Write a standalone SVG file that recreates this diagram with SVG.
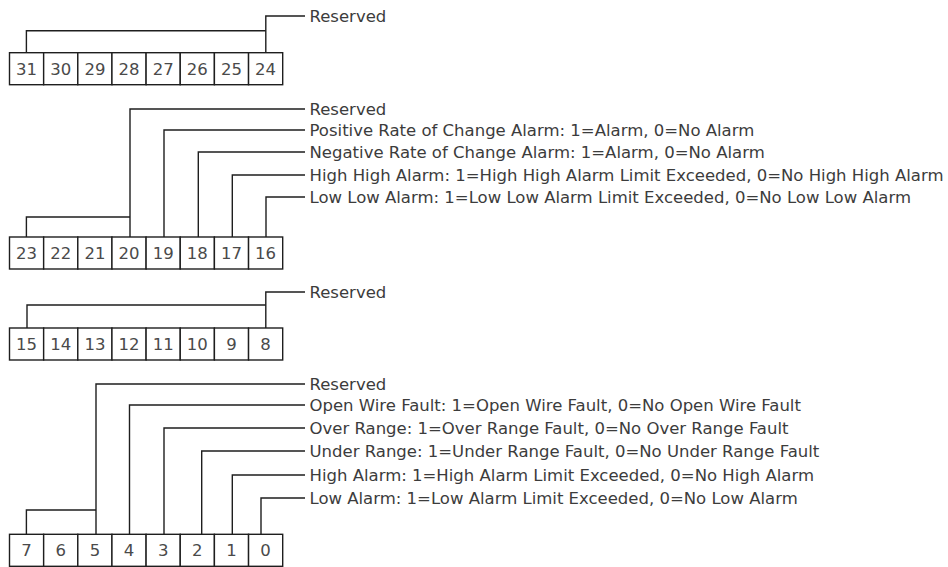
<svg xmlns="http://www.w3.org/2000/svg" width="948" height="567" viewBox="0 0 948 567">
<style>
.cell{fill:#fff;stroke:#1e1e1e;stroke-width:1.4}
.num{font-family:"DejaVu Sans","Liberation Sans",sans-serif;font-size:16.5px;fill:#4a4a4a;text-anchor:middle}
.lbl{font-family:"DejaVu Sans","Liberation Sans",sans-serif;font-size:16.5px;fill:#3c3c3c}
.ln{fill:none;stroke:#1e1e1e;stroke-width:1.4}
</style>
<rect width="948" height="567" fill="#fff"/>
<!-- Row 1: bits 31-24 -->
<g id="bit31"><rect class="cell" x="9.5" y="52.7" width="34.15" height="32"/><text class="num" x="26.6" y="74.7">31</text></g>
<g id="bit30"><rect class="cell" x="43.65" y="52.7" width="34.15" height="32"/><text class="num" x="60.7" y="74.7">30</text></g>
<g id="bit29"><rect class="cell" x="77.8" y="52.7" width="34.15" height="32"/><text class="num" x="94.9" y="74.7">29</text></g>
<g id="bit28"><rect class="cell" x="111.95" y="52.7" width="34.15" height="32"/><text class="num" x="129" y="74.7">28</text></g>
<g id="bit27"><rect class="cell" x="146.1" y="52.7" width="34.15" height="32"/><text class="num" x="163.2" y="74.7">27</text></g>
<g id="bit26"><rect class="cell" x="180.25" y="52.7" width="34.15" height="32"/><text class="num" x="197.3" y="74.7">26</text></g>
<g id="bit25"><rect class="cell" x="214.4" y="52.7" width="34.15" height="32"/><text class="num" x="231.5" y="74.7">25</text></g>
<g id="bit24"><rect class="cell" x="248.55" y="52.7" width="34.15" height="32"/><text class="num" x="265.6" y="74.7">24</text></g>
<g id="lbl-r1-reserved"><text class="lbl" x="309.5" y="22">Reserved</text></g>
<!-- Row 2: bits 23-16 -->
<g id="bit23"><rect class="cell" x="9.5" y="237" width="34.15" height="32"/><text class="num" x="26.6" y="259">23</text></g>
<g id="bit22"><rect class="cell" x="43.65" y="237" width="34.15" height="32"/><text class="num" x="60.7" y="259">22</text></g>
<g id="bit21"><rect class="cell" x="77.8" y="237" width="34.15" height="32"/><text class="num" x="94.9" y="259">21</text></g>
<g id="bit20"><rect class="cell" x="111.95" y="237" width="34.15" height="32"/><text class="num" x="129" y="259">20</text></g>
<g id="bit19"><rect class="cell" x="146.1" y="237" width="34.15" height="32"/><text class="num" x="163.2" y="259">19</text></g>
<g id="bit18"><rect class="cell" x="180.25" y="237" width="34.15" height="32"/><text class="num" x="197.3" y="259">18</text></g>
<g id="bit17"><rect class="cell" x="214.4" y="237" width="34.15" height="32"/><text class="num" x="231.5" y="259">17</text></g>
<g id="bit16"><rect class="cell" x="248.55" y="237" width="34.15" height="32"/><text class="num" x="265.6" y="259">16</text></g>
<g id="lbl-r2-reserved"><text class="lbl" x="309.5" y="115">Reserved</text></g>
<g id="lbl-posroc"><text class="lbl" x="309.5" y="136">Positive Rate of Change Alarm: 1=Alarm, 0=No Alarm</text></g>
<g id="lbl-negroc"><text class="lbl" x="309.5" y="158">Negative Rate of Change Alarm: 1=Alarm, 0=No Alarm</text></g>
<g id="lbl-hihi"><text class="lbl" x="309.5" y="181">High High Alarm: 1=High High Alarm Limit Exceeded, 0=No High High Alarm</text></g>
<g id="lbl-lolo"><text class="lbl" x="309.5" y="203">Low Low Alarm: 1=Low Low Alarm Limit Exceeded, 0=No Low Low Alarm</text></g>
<!-- Row 3: bits 15-8 -->
<g id="bit15"><rect class="cell" x="9.5" y="328" width="34.15" height="32"/><text class="num" x="26.6" y="350">15</text></g>
<g id="bit14"><rect class="cell" x="43.65" y="328" width="34.15" height="32"/><text class="num" x="60.7" y="350">14</text></g>
<g id="bit13"><rect class="cell" x="77.8" y="328" width="34.15" height="32"/><text class="num" x="94.9" y="350">13</text></g>
<g id="bit12"><rect class="cell" x="111.95" y="328" width="34.15" height="32"/><text class="num" x="129" y="350">12</text></g>
<g id="bit11"><rect class="cell" x="146.1" y="328" width="34.15" height="32"/><text class="num" x="163.2" y="350">11</text></g>
<g id="bit10"><rect class="cell" x="180.25" y="328" width="34.15" height="32"/><text class="num" x="197.3" y="350">10</text></g>
<g id="bit9"><rect class="cell" x="214.4" y="328" width="34.15" height="32"/><text class="num" x="231.5" y="350">9</text></g>
<g id="bit8"><rect class="cell" x="248.55" y="328" width="34.15" height="32"/><text class="num" x="265.6" y="350">8</text></g>
<g id="lbl-r3-reserved"><text class="lbl" x="309.5" y="298">Reserved</text></g>
<!-- Row 4: bits 7-0 -->
<g id="bit7"><rect class="cell" x="9.5" y="534.3" width="34.15" height="32"/><text class="num" x="26.6" y="556.3">7</text></g>
<g id="bit6"><rect class="cell" x="43.65" y="534.3" width="34.15" height="32"/><text class="num" x="60.7" y="556.3">6</text></g>
<g id="bit5"><rect class="cell" x="77.8" y="534.3" width="34.15" height="32"/><text class="num" x="94.9" y="556.3">5</text></g>
<g id="bit4"><rect class="cell" x="111.95" y="534.3" width="34.15" height="32"/><text class="num" x="129" y="556.3">4</text></g>
<g id="bit3"><rect class="cell" x="146.1" y="534.3" width="34.15" height="32"/><text class="num" x="163.2" y="556.3">3</text></g>
<g id="bit2"><rect class="cell" x="180.25" y="534.3" width="34.15" height="32"/><text class="num" x="197.3" y="556.3">2</text></g>
<g id="bit1"><rect class="cell" x="214.4" y="534.3" width="34.15" height="32"/><text class="num" x="231.5" y="556.3">1</text></g>
<g id="bit0"><rect class="cell" x="248.55" y="534.3" width="34.15" height="32"/><text class="num" x="265.6" y="556.3">0</text></g>
<g id="lbl-r4-reserved"><text class="lbl" x="309.5" y="390">Reserved</text></g>
<g id="lbl-openwire"><text class="lbl" x="309.5" y="411">Open Wire Fault: 1=Open Wire Fault, 0=No Open Wire Fault</text></g>
<g id="lbl-overrange"><text class="lbl" x="309.5" y="434">Over Range: 1=Over Range Fault, 0=No Over Range Fault</text></g>
<g id="lbl-underrange"><text class="lbl" x="309.5" y="457">Under Range: 1=Under Range Fault, 0=No Under Range Fault</text></g>
<g id="lbl-highalarm"><text class="lbl" x="309.5" y="481">High Alarm: 1=High Alarm Limit Exceeded, 0=No High Alarm</text></g>
<g id="lbl-lowalarm"><text class="lbl" x="309.5" y="504">Low Alarm: 1=Low Alarm Limit Exceeded, 0=No Low Alarm</text></g>
<!-- Connectors -->
<g id="connectors" class="ln">
<path d="M26.4 52.7V30.7H265.8"/>
<path d="M265.8 52.7V16H305"/>
<path d="M26.4 237V217H130"/>
<path d="M130 237V109H305"/>
<path d="M164 237V130H305"/>
<path d="M198.3 237V152H305"/>
<path d="M232.3 237V175H305"/>
<path d="M266 237V197H305"/>
<path d="M27 328V305H265.8"/>
<path d="M265.8 328V292H305"/>
<path d="M26.4 534.3V510H96"/>
<path d="M96 534.3V384H305"/>
<path d="M129.5 534.3V405H305"/>
<path d="M164 534.3V428H305"/>
<path d="M201.7 534.3V451H305"/>
<path d="M232.3 534.3V475H305"/>
<path d="M261 534.3V498H305"/>
</g>
</svg>
